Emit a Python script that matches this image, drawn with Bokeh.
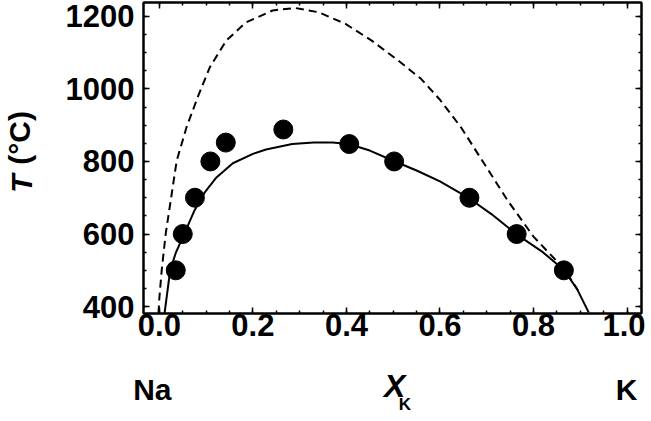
import numpy as np
from bokeh.plotting import figure
from bokeh.models import LinearAxis, FixedTicker, PrintfTickFormatter, CustomJSTickFormatter
from bokeh.embed import file_html
from bokeh.resources import INLINE

# ---- data ----
pts_x = [0.035, 0.050, 0.076, 0.109, 0.142, 0.265, 0.406, 0.502, 0.663, 0.764, 0.865]
pts_t = [500, 600, 700, 800, 852, 888, 848, 800, 700, 600, 500]

solid_x = [0.011, 0.023, 0.035, 0.053, 0.075, 0.097, 0.122, 0.157, 0.200, 0.228, 0.284,
           0.330, 0.370, 0.405, 0.450, 0.500, 0.550, 0.600, 0.663, 0.710, 0.764, 0.820,
           0.865, 0.893, 0.918]
solid_t = [381, 500, 548, 600, 665, 715, 756, 795, 821, 833, 848,
           852, 852, 848, 830, 802, 775, 745, 698, 655, 599, 550,
           501, 449, 384]

dash_x = [-0.002, 0.000, 0.005, 0.0134, 0.037, 0.058, 0.083, 0.108, 0.143, 0.185, 0.242,
          0.290, 0.341, 0.398, 0.454, 0.511, 0.560, 0.600, 0.645, 0.695, 0.745,
          0.800, 0.855, 0.880, 0.895]
dash_t = [381, 425, 501, 600, 802, 894, 981, 1060, 1133, 1183, 1216,
          1223, 1211, 1179, 1133, 1078, 1027, 970, 894, 793, 692,
          593, 518, 475, 445]

x_ticks = [0.0, 0.2, 0.4, 0.6, 0.8, 1.0]
x_minor = [round(0.05 * i, 2) for i in range(21)]
y_ticks = [400, 600, 800, 1000, 1200]
y_minor = list(range(400, 1250, 50))

FONT = "Liberation Sans"

p = figure(width=645, height=420, x_range=(-0.034, 1.031), y_range=(381, 1238),
           output_backend="svg", toolbar_location=None,
           min_border_left=140, min_border_right=4, min_border_top=2, min_border_bottom=107)
p.grid.visible = False
p.outline_line_color = "black"
p.outline_line_width = 2
p.background_fill_color = "white"
p.border_fill_color = "white"

xt = FixedTicker(ticks=x_ticks, minor_ticks=x_minor)
yt = FixedTicker(ticks=y_ticks, minor_ticks=y_minor)

def style(ax, show_labels):
    ax.axis_line_width = 2
    ax.axis_line_color = "black"
    ax.major_tick_in = 6
    ax.major_tick_out = 0
    ax.minor_tick_in = 3
    ax.minor_tick_out = 0
    ax.major_tick_line_width = 1.5
    ax.minor_tick_line_width = 1.5
    if show_labels:
        ax.major_label_text_font = FONT
        ax.major_label_text_font_style = "bold"
        ax.major_label_text_font_size = "31px"
        ax.major_label_text_color = "black"
    else:
        ax.major_label_text_font_size = "1px"
        ax.major_label_text_color = None
        ax.major_label_standoff = 0

bx = p.xaxis[0]
bx.ticker = xt
bx.formatter = PrintfTickFormatter(format="%.1f")
style(bx, True)
bx.major_label_standoff = 0

ly = p.yaxis[0]
ly.ticker = yt
style(ly, True)
ly.major_label_standoff = 9

top = LinearAxis(ticker=xt)
style(top, False)
p.add_layout(top, "above")
right = LinearAxis(ticker=yt)
style(right, False)
p.add_layout(right, "right")

p.line(dash_x, dash_t, line_color="black", line_width=2, line_dash="8 5")
p.line(solid_x, solid_t, line_color="black", line_width=2)
p.scatter(pts_x, pts_t, size=19, color="black")

# text-only axes used as labels outside the frame
def text_axis(side, at, code, size, fstyle, standoff, orient="horizontal"):
    ax = LinearAxis(ticker=FixedTicker(ticks=at, minor_ticks=[]),
                    formatter=CustomJSTickFormatter(code=code))
    ax.axis_line_color = None
    ax.major_tick_line_color = None
    ax.minor_tick_line_color = None
    ax.major_tick_in = 0
    ax.major_tick_out = 0
    ax.minor_tick_in = 0
    ax.minor_tick_out = 0
    ax.major_label_text_font = FONT
    ax.major_label_text_font_size = size
    ax.major_label_text_font_style = fstyle
    ax.major_label_text_color = "black"
    ax.major_label_standoff = standoff
    ax.major_label_orientation = orient
    p.add_layout(ax, side)
    return ax

# composition row below the x tick labels: Na ... X_K ... K
text_axis("below", [-0.015, 0.999], "return tick < 0.5 ? 'Na' : 'K';", "30px", "bold", 34)
text_axis("below", [0.503], "return 'X';", "32px", "bold italic", -41)
text_axis("below", [0.525], "return 'K';", "17px", "bold", -14)

# y-axis title: italic T followed by (°C)
text_axis("left", [739], "return 'T';", "30px", "bold italic", 24, "vertical")
text_axis("left", [865], "return '(°C)';", "30px", "bold", -34, "vertical")

open("out.html", "w").write(file_html(p, INLINE))
